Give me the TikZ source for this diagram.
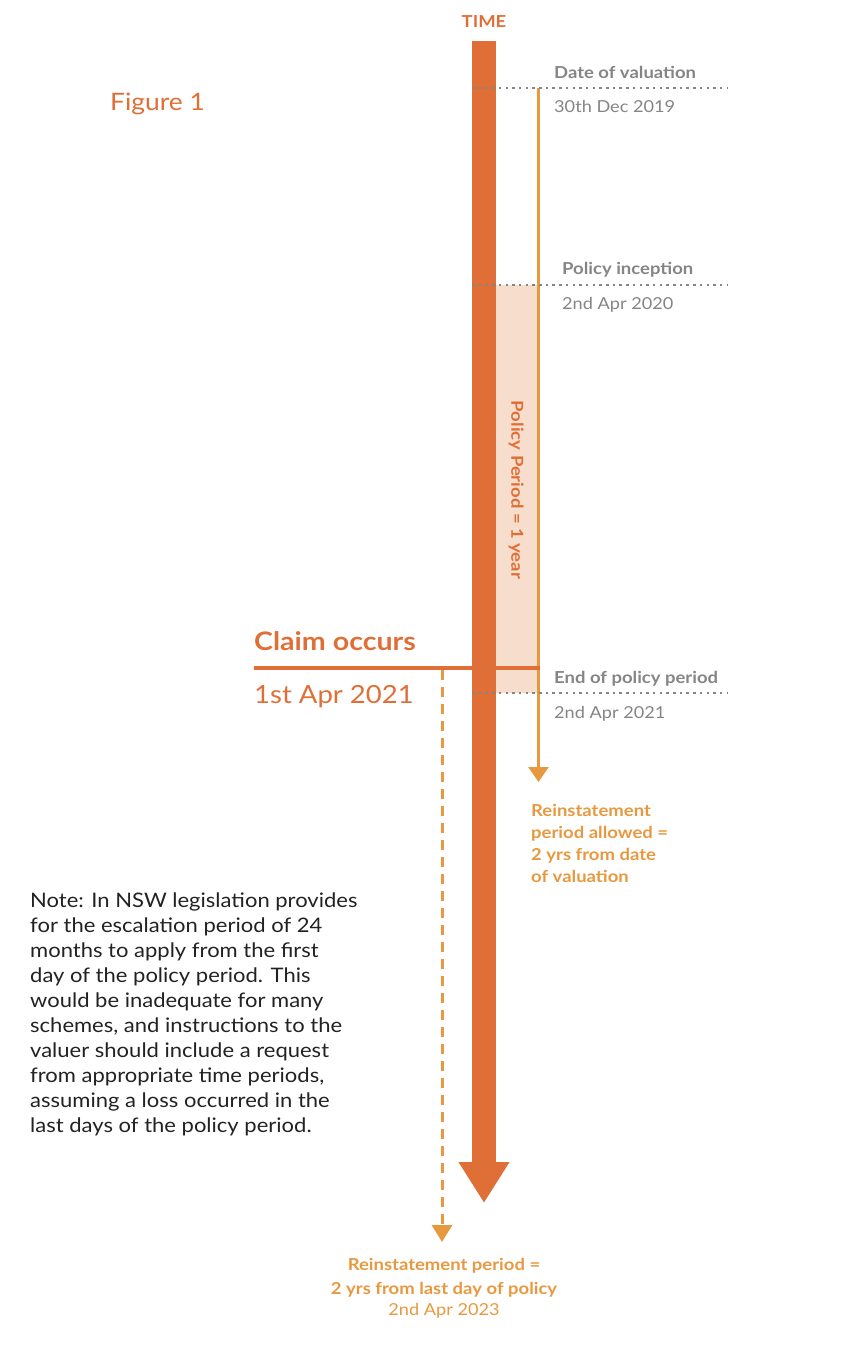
\documentclass[tikz,border=0pt]{standalone}
\usepackage{fontspec}
\setmainfont{Lato}[FakeStretch=1.1,BoldFeatures={FakeStretch=1.12}]
\usetikzlibrary{arrows.meta,positioning,calc}
\definecolor{rust}{HTML}{E06F37}
\definecolor{amber}{HTML}{E8983F}
\definecolor{blush}{HTML}{F7DDCB}
\definecolor{slate}{HTML}{858585}
\definecolor{ink}{HTML}{222222}

\begin{document}
\begin{tikzpicture}[x=1pt,y=-1pt,
    marker/.style={anchor=base west,inner sep=0pt,text=slate,
      font=\fontsize{16.5}{20}\selectfont\bfseries},
    markdate/.style={anchor=base west,inner sep=0pt,text=slate,
      font=\fontsize{16.5}{20}\selectfont},
    guide/.style={draw=slate,line width=1.4pt,dash pattern=on 2.5pt off 4.2pt},
    reinst/.style={inner sep=0pt,text=amber,font=\fontsize{16.5}{22}\selectfont\bfseries}
  ]
  \useasboundingbox (0,0) rectangle (842,1346);

  % axis end points
  \coordinate (ttop) at (484,41);
  \coordinate (tend) at (484,1203);
  \coordinate (valtop) at (538.5,88);
  \coordinate (valend) at (538.5,782);
  \coordinate (claimL) at (254,668);
  \coordinate (claimR) at (540,668);
  \coordinate (lasttop) at (442,670);
  \coordinate (lastend) at (442,1242);

  % policy period band
  \fill[blush] (496,285) rectangle (538,693);
  \node[rotate=-90,inner sep=0pt,text=rust,
    font=\fontsize{16.5}{18}\selectfont\bfseries] (period) at (516,490) {Policy Period = 1 year};

  \draw[amber,line width=2.6pt,-{Triangle[length=15pt,width=20pt]}] (valtop) -- (valend);
  \draw[rust,line width=24pt,-{Triangle[length=41pt,width=48pt]}] (ttop) -- (tend);
  \draw[rust,line width=4pt] (claimL) -- (claimR);
  \draw[amber,line width=3pt,dash pattern=on 10pt off 7pt,
    -{Triangle[length=17pt,width=20pt]}] (lasttop) -- (lastend);

  % date markers
  \coordinate (valline) at (472,88);
  \coordinate (incline) at (472,285);
  \coordinate (endline) at (472,693);
  \draw[guide] (valline) -- ++(255,0);
  \draw[guide] (incline) -- ++(255,0);
  \draw[guide] (endline) -- ++(255,0);

  \node[anchor=base,inner sep=0pt,text=rust,
    font=\fontsize{16.5}{18}\selectfont\bfseries] (time) at (484,28) {TIME};
  \node[anchor=base west,inner sep=0pt,text=rust,
    font=\fontsize{24}{28}\selectfont] (fig) at (110,110) {Figure 1};

  \node[marker] (valhead) at (554,78) {Date of valuation};
  \node[markdate] (valdate) at (554,112) {30th Dec 2019};
  \node[marker] (inchead) at (562,274) {Policy inception};
  \node[markdate] (incdate) at (562,309) {2nd Apr 2020};
  \node[marker] (endhead) at (554,683) {End of policy period};
  \node[markdate] (enddate) at (554,718) {2nd Apr 2021};

  \node[anchor=base west,inner sep=0pt,text=rust,
    font=\fontsize{25.5}{28}\selectfont\bfseries] (claim) at (254,650) {Claim occurs};
  \node[anchor=base west,inner sep=0pt,text=rust,
    font=\fontsize{25}{28}\selectfont] (claimdate) at (254,703) {1st Apr 2021};

  \node[reinst,anchor=north west,align=left] (allowed) at (531,804)
    {Reinstatement\\period allowed =\\2 yrs from date\\of valuation};

  \node[anchor=north west,inner sep=0pt,text=ink,align=left,
    font=\fontsize{20}{25}\selectfont] (note) at (30,893)
    {Note: In NSW legislation provides\\for the escalation period of 24\\months to apply from the first\\day of the policy period. This\\would be inadequate for many\\schemes, and instructions to the\\valuer should include a request\\from appropriate time periods,\\assuming a loss occurred in the\\last days of the policy period.};

  \node[reinst,anchor=north,align=center,
    font=\fontsize{16.5}{24}\selectfont\bfseries] (lastday) at (444,1258)
    {Reinstatement period =\\2 yrs from last day of policy\\[-3pt]{\mdseries 2nd Apr 2023}};
\end{tikzpicture}
\end{document}
